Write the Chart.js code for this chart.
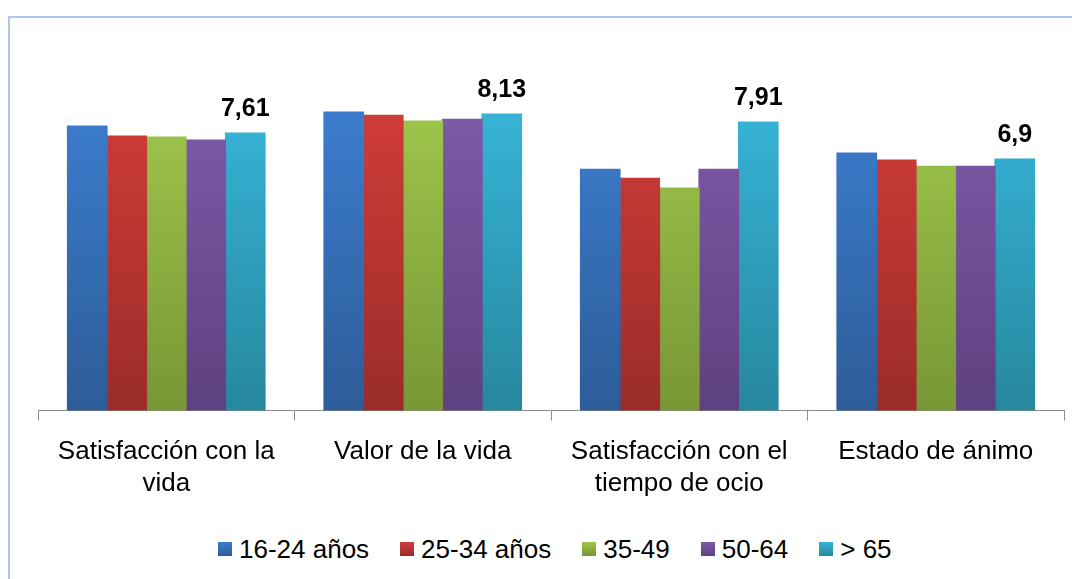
<!DOCTYPE html>
<html lang="es">
<head>
<meta charset="utf-8">
<title>Bienestar por grupos de edad</title>
<script src="https://cdn.jsdelivr.net/npm/chart.js@4.4.1/dist/chart.umd.min.js"></script>
<style>
  html, body { margin: 0; padding: 0; background: #fff; overflow: hidden; }
  body { width: 1072px; height: 579px; position: relative; font-family: Arial, "Liberation Sans", sans-serif; }
  #marco {
    position: absolute; left: 8px; top: 16px; width: 1100px; height: 600px;
    border-left: 2px solid #afc6ee; border-top: 2px solid #afc6ee;
  }
  #grafico { position: absolute; left: 0; top: 0; }
  #leyenda {
    position: absolute; left: 218px; top: 536px;
    display: flex; gap: 31px; font-size: 26px; line-height: 26px; color: #000;
  }
  #leyenda .item { display: flex; align-items: center; }
  #leyenda .cuadro { width: 14px; height: 14px; margin-right: 7px; }
</style>
</head>
<body>
<div id="marco"></div>
<canvas id="grafico" width="1072" height="517"></canvas>
<div id="leyenda"></div>

<script>
  // Indicadores y grupos de edad
  const categorias = [
    ['Satisfacción con la', 'vida'],
    'Valor de la vida',
    ['Satisfacción con el', 'tiempo de ocio'],
    'Estado de ánimo'
  ];
  const grupos = ['16-24 años', '25-34 años', '35-49', '50-64', '> 65'];

  // Puntuaciones medias por grupo (una serie por grupo de edad)
  const edad16a24 = [7.80, 8.19, 6.62, 7.06];
  const edad25a34 = [7.53, 8.10, 6.37, 6.87];
  const edad35a49 = [7.50, 7.94, 6.10, 6.70];
  const edad50a64 = [7.42, 7.99, 6.62, 6.70];
  const edad65mas = [7.61, 8.13, 7.91, 6.9];

  // Colores: claro arriba, oscuro abajo
  const coloresClaros = ['#3c7dcf', '#d03c38', '#9ec64b', '#7e5aa8', '#37b4d8'];
  const coloresOscuros = ['#2d5c98', '#9a2c29', '#789636', '#5e4180', '#26879e'];

  const series = [edad16a24, edad25a34, edad35a49, edad50a64, edad65mas];

  function degradado(i) {
    return function (ctx) {
      const area = ctx.chart.chartArea;
      if (!area) return coloresClaros[i];
      const g = ctx.chart.ctx.createLinearGradient(0, area.top + 60, 0, area.bottom);
      g.addColorStop(0, coloresClaros[i]);
      g.addColorStop(1, coloresOscuros[i]);
      return g;
    };
  }

  // Etiqueta de valor solo sobre la última serie
  const etiquetasValor = {
    id: 'etiquetasValor',
    afterDatasetsDraw(chart) {
      const ctx = chart.ctx;
      const idx = series.length - 1;
      const meta = chart.getDatasetMeta(idx);
      ctx.save();
      ctx.font = 'bold 25px Arial, "Liberation Sans", sans-serif';
      ctx.fillStyle = '#000';
      ctx.textAlign = 'center';
      ctx.textBaseline = 'alphabetic';
      meta.data.forEach(function (barra, j) {
        const texto = String(edad65mas[j]).replace('.', ',');
        ctx.fillText(texto, barra.x, barra.y - 17);
      });
      ctx.restore();
    }
  };

  Chart.defaults.font.family = 'Arial, "Liberation Sans", sans-serif';
  Chart.defaults.color = '#000';

  const grafico = new Chart(document.getElementById('grafico').getContext('2d'), {
    type: 'bar',
    data: {
      labels: categorias,
      datasets: series.map(function (datos, i) {
        return {
          label: grupos[i],
          data: datos,
          backgroundColor: degradado(i),
          borderWidth: 0,
          inflateAmount: 0.6,
          categoryPercentage: 0.77,
          barPercentage: 1.0
        };
      })
    },
    options: {
      responsive: false,
      animation: false,
      layout: { padding: { left: 38, right: 8, top: 46, bottom: 2 } },
      plugins: {
        legend: { display: false },
        tooltip: { enabled: false }
      },
      scales: {
        x: {
          offset: true,
          grid: {
            offset: true,
            drawOnChartArea: false,
            drawTicks: true,
            tickLength: 10,
            color: '#8c8c8c'
          },
          border: { display: true, color: '#8c8c8c' },
          ticks: {
            padding: 16,
            maxRotation: 0,
            font: { size: 26, lineHeight: 1.2 },
            color: '#000'
          }
        },
        y: {
          display: false,
          min: 0,
          max: 10
        }
      }
    },
    plugins: [etiquetasValor]
  });

  // Leyenda bajo el gráfico
  const leyenda = document.getElementById('leyenda');
  grupos.forEach(function (nombre, i) {
    const item = document.createElement('div');
    item.className = 'item';
    const cuadro = document.createElement('span');
    cuadro.className = 'cuadro';
    cuadro.style.background = 'linear-gradient(' + coloresClaros[i] + ', ' + coloresOscuros[i] + ')';
    const texto = document.createElement('span');
    texto.textContent = nombre;
    item.appendChild(cuadro);
    item.appendChild(texto);
    leyenda.appendChild(item);
  });
</script>
</body>
</html>
